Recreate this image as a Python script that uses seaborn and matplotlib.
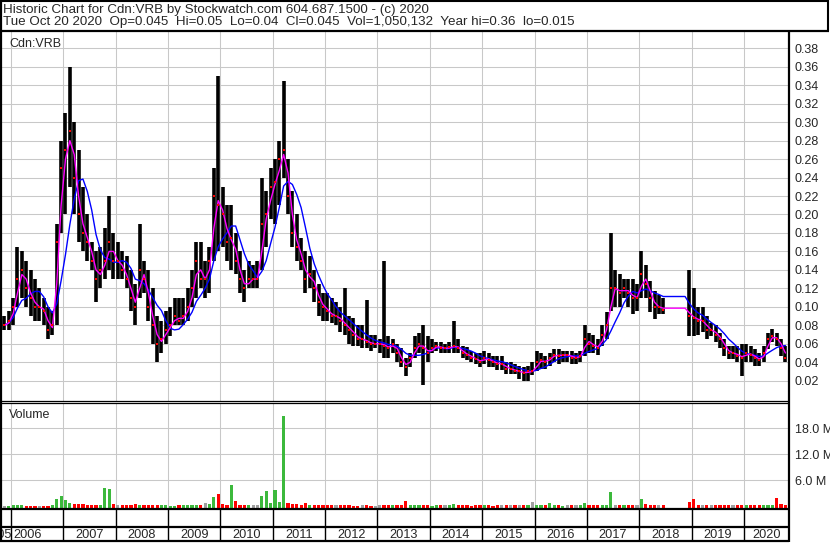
import numpy as np
import pandas as pd
import matplotlib
matplotlib.use("Agg")
import matplotlib.pyplot as plt
import seaborn as sns

nan = np.nan

# ---------------------------------------------
# Monthly bars, Nov 2005 .. Oct 2020
# (no trading Jul-Nov 2018)
# ---------------------------------------------
first_month = "2005-11"

high = [
    0.09, 0.095,
    0.11, 0.165, 0.16, 0.15, 0.14, 0.13, 0.12, 0.11, 0.10, 0.095, 0.19, 0.28,
    0.31, 0.36, 0.30, 0.27, 0.23, 0.20, 0.17, 0.16, 0.165, 0.185, 0.22, 0.18,
    0.17, 0.16, 0.155, 0.14, 0.125, 0.19, 0.15, 0.14, 0.12, 0.09, 0.085, 0.095,
    0.10, 0.11, 0.11, 0.11, 0.12, 0.14, 0.17, 0.17, 0.15, 0.165, 0.25, 0.35,
    0.23, 0.21, 0.21, 0.18, 0.16, 0.14, 0.15, 0.145, 0.15, 0.24, 0.225, 0.25,
    0.26, 0.28, 0.345, 0.26, 0.225, 0.20, 0.175, 0.16, 0.155, 0.14, 0.125, 0.115,
    0.115, 0.11, 0.105, 0.10, 0.12, 0.09, 0.088, 0.08, 0.08, 0.107, 0.07, 0.07,
    0.065, 0.15, 0.068, 0.065, 0.06, 0.055, 0.045, 0.05, 0.068, 0.072, 0.08, 0.068,
    0.065, 0.062, 0.062, 0.06, 0.062, 0.085, 0.065, 0.058, 0.056, 0.052, 0.05, 0.05,
    0.052, 0.05, 0.047, 0.047, 0.047, 0.04, 0.04, 0.038, 0.036, 0.035, 0.036, 0.04,
    0.052, 0.05, 0.047, 0.05, 0.054, 0.054, 0.052, 0.052, 0.052, 0.05, 0.052, 0.08,
    0.072, 0.069, 0.065, 0.08, 0.094, 0.18, 0.14, 0.135, 0.13, 0.13, 0.13, 0.125,
    0.16, 0.145, 0.128, 0.117, 0.113, 0.11, nan, nan, nan, nan, nan, 0.14,
    0.12, 0.10, 0.10, 0.09, 0.083, 0.08, 0.072, 0.065, 0.058, 0.058, 0.058, 0.06,
    0.06, 0.058, 0.054, 0.05, 0.058, 0.072, 0.076, 0.072, 0.065, 0.058,
]

low = [
    0.075, 0.075,
    0.08, 0.10, 0.11, 0.10, 0.09, 0.085, 0.085, 0.08, 0.065, 0.07, 0.08, 0.18,
    0.20, 0.23, 0.20, 0.17, 0.16, 0.15, 0.14, 0.105, 0.12, 0.13, 0.14, 0.13,
    0.13, 0.13, 0.12, 0.095, 0.08, 0.11, 0.115, 0.085, 0.06, 0.04, 0.05, 0.06,
    0.068, 0.08, 0.08, 0.08, 0.085, 0.10, 0.11, 0.12, 0.11, 0.115, 0.15, 0.16,
    0.165, 0.15, 0.14, 0.135, 0.115, 0.105, 0.12, 0.12, 0.12, 0.14, 0.165, 0.195,
    0.19, 0.21, 0.24, 0.20, 0.165, 0.15, 0.14, 0.115, 0.12, 0.105, 0.09, 0.085,
    0.085, 0.083, 0.08, 0.073, 0.07, 0.06, 0.058, 0.058, 0.055, 0.055, 0.052, 0.055,
    0.05, 0.045, 0.045, 0.05, 0.04, 0.035, 0.025, 0.035, 0.045, 0.05, 0.015, 0.04,
    0.05, 0.052, 0.05, 0.05, 0.05, 0.05, 0.05, 0.045, 0.042, 0.04, 0.038, 0.035,
    0.038, 0.035, 0.035, 0.032, 0.032, 0.027, 0.027, 0.027, 0.022, 0.02, 0.02, 0.026,
    0.03, 0.033, 0.033, 0.036, 0.04, 0.038, 0.04, 0.04, 0.038, 0.038, 0.04, 0.047,
    0.05, 0.05, 0.048, 0.058, 0.065, 0.095, 0.10, 0.10, 0.11, 0.10, 0.092, 0.095,
    0.11, 0.11, 0.094, 0.087, 0.092, 0.092, nan, nan, nan, nan, nan, 0.068,
    0.068, 0.07, 0.073, 0.065, 0.068, 0.062, 0.055, 0.047, 0.043, 0.043, 0.04, 0.025,
    0.04, 0.04, 0.036, 0.036, 0.04, 0.054, 0.062, 0.058, 0.047, 0.04,
]

close = [
    0.08, 0.085,
    0.10, 0.13, 0.14, 0.12, 0.11, 0.10, 0.10, 0.095, 0.075, 0.08, 0.17, 0.25,
    0.27, 0.29, 0.24, 0.20, 0.18, 0.17, 0.15, 0.13, 0.14, 0.15, 0.17, 0.15,
    0.15, 0.14, 0.13, 0.11, 0.10, 0.14, 0.13, 0.10, 0.08, 0.06, 0.065, 0.075,
    0.08, 0.09, 0.085, 0.09, 0.10, 0.12, 0.15, 0.13, 0.13, 0.15, 0.22, 0.21,
    0.20, 0.17, 0.175, 0.15, 0.13, 0.12, 0.13, 0.13, 0.13, 0.19, 0.20, 0.23,
    0.235, 0.26, 0.27, 0.22, 0.18, 0.165, 0.15, 0.13, 0.135, 0.12, 0.105, 0.10,
    0.095, 0.09, 0.09, 0.085, 0.08, 0.075, 0.07, 0.065, 0.065, 0.062, 0.06, 0.06,
    0.06, 0.058, 0.055, 0.06, 0.05, 0.04, 0.035, 0.045, 0.055, 0.06, 0.055, 0.05,
    0.055, 0.058, 0.055, 0.055, 0.056, 0.058, 0.055, 0.05, 0.048, 0.045, 0.043, 0.04,
    0.045, 0.042, 0.04, 0.038, 0.038, 0.033, 0.033, 0.03, 0.03, 0.028, 0.03, 0.03,
    0.04, 0.042, 0.04, 0.045, 0.048, 0.047, 0.048, 0.048, 0.045, 0.045, 0.047, 0.065,
    0.06, 0.058, 0.055, 0.07, 0.08, 0.12, 0.12, 0.115, 0.12, 0.115, 0.11, 0.11,
    0.135, 0.125, 0.11, 0.10, 0.10, 0.097, nan, nan, nan, nan, nan, 0.09,
    0.088, 0.085, 0.085, 0.075, 0.075, 0.07, 0.065, 0.055, 0.05, 0.05, 0.047, 0.045,
    0.05, 0.048, 0.045, 0.042, 0.05, 0.065, 0.068, 0.065, 0.055, 0.045,
]

# volume in millions of shares
volume = [
    0.15, 0.15,
    0.2, 0.3, 0.2, 0.15, 0.15, 0.15, 0.1, 0.15, 0.15, 0.2, 1.7, 2.4,
    1.5, 0.8, 0.6, 0.6, 0.5, 0.4, 0.3, 0.3, 0.3, 4.2, 4.0, 0.5,
    0.3, 0.2, 0.2, 0.3, 0.5, 0.3, 0.2, 0.2, 0.2, 0.3, 0.2, 0.2,
    0.15, 0.15, 0.2, 0.2, 0.2, 0.3, 0.4, 0.3, 0.7, 0.5, 2.2, 2.8,
    0.5, 0.3, 4.9, 1.2, 0.3, 0.3, 0.2, 0.3, 0.4, 2.4, 3.5, 0.8,
    3.8, 1.0, 20.8, 0.8, 0.6, 0.5, 0.4, 0.7, 0.3, 0.3, 0.2, 0.2,
    0.2, 0.2, 0.2, 0.3, 0.2, 0.2, 0.15, 0.15, 0.2, 0.2, 0.15, 0.15,
    0.2, 0.3, 0.2, 0.2, 0.2, 0.2, 1.2, 0.3, 0.2, 0.2, 0.3, 0.2,
    0.15, 0.2, 0.2, 0.2, 0.2, 0.55, 0.2, 0.2, 0.2, 0.15, 0.2, 0.2,
    0.2, 0.2, 0.15, 0.2, 0.3, 0.2, 0.2, 0.2, 0.25, 0.2, 0.3, 1.0,
    0.2, 0.2, 0.2, 0.7, 0.2, 0.2, 0.15, 0.2, 0.2, 0.2, 0.2, 0.7,
    0.3, 0.2, 0.2, 0.3, 0.4, 3.2, 0.4, 0.3, 0.3, 0.4, 0.3, 0.3,
    1.8, 0.5, 0.4, 0.3, 0.3, 0.2, nan, nan, nan, nan, nan, 1.0,
    1.7, 0.4, 0.3, 0.2, 0.2, 0.2, 0.2, 0.2, 0.2, 0.3, 0.2, 0.2,
    0.2, 0.2, 0.3, 0.2, 0.2, 0.3, 0.2, 2.0, 0.5, 0.3,
]

price_ticks = [0.02, 0.04, 0.06, 0.08, 0.10, 0.12, 0.14, 0.16, 0.18, 0.20,
               0.22, 0.24, 0.26, 0.28, 0.30, 0.32, 0.34, 0.36, 0.38]
volume_ticks = [6.0, 12.0, 18.0]
years = list(range(2005, 2021))

title_line1 = "Historic Chart for Cdn:VRB by Stockwatch.com 604.687.1500 - (c) 2020"
title_line2 = ("Tue Oct 20 2020  Op=0.045  Hi=0.05  Lo=0.04  Cl=0.045  "
               "Vol=1,050,132  Year hi=0.36  lo=0.015")

# ---------------------------------------------
# Build the frame
# ---------------------------------------------
months = pd.period_range(first_month, periods=len(close), freq="M")
df = pd.DataFrame({
    "t": months.year + (months.month - 0.5) / 12.0,
    "high": high, "low": low, "close": close, "volume": volume,
})

# moving averages over traded months, carried flat through the halt
traded = df.dropna(subset=["close"])
df["ma_fast"] = traded["close"].rolling(2, min_periods=1).mean().reindex(df.index).ffill()
df["ma_slow"] = traded["close"].rolling(6, min_periods=1).mean().reindex(df.index).ffill()

chg = traded["close"].diff().reindex(df.index)
df["vcol"] = np.where(chg > 0, "#3cb93c", np.where(chg < 0, "#ff0000", "#a0a0a0"))

# ---------------------------------------------
# Figure, pixel-based layout
# ---------------------------------------------
sns.set_style("white")
plt.rcParams["font.family"] = ["Liberation Sans", "DejaVu Sans"]
plt.rcParams["font.size"] = 9

W, H = 830, 543
fig = plt.figure(figsize=(W / 100, H / 100), dpi=100)


def box(x0, y0, x1, y1):
    return [x0 / W, 1 - y1 / H, (x1 - x0) / W, (y1 - y0) / H]


x_lo, x_hi = 2005.81, 2020.86
px_year = 52.36
grid_kw = dict(color="#c8c8c8", lw=0.75, zorder=0)

ax = fig.add_axes(box(1, 31, 789, 401))
ax_v = fig.add_axes(box(1, 403, 789, 509))
ax_d = fig.add_axes(box(1, 509, 789, 541))

# --- price panel
ax.set_xlim(x_lo, x_hi)
ax.set_ylim(-0.002, 0.3987)
for y in price_ticks:
    ax.axhline(y, **grid_kw)
for yr in years[1:]:
    ax.axvline(yr, **grid_kw)

ax.vlines(df["t"], df["low"], df["high"], color="black", lw=2.6, zorder=2)
sns.lineplot(x=df["t"], y=df["ma_slow"], color="#0000ff", lw=1.0, ax=ax, zorder=3)
sns.lineplot(x=df["t"], y=df["ma_fast"], color="#ff00ff", lw=1.0, ax=ax, zorder=4)
sns.scatterplot(x=df["t"], y=df["close"], color="#ff0000", marker="s", s=3,
                linewidth=0, ax=ax, zorder=5)

ax.yaxis.tick_right()
ax.set_yticks(price_ticks)
ax.set_yticklabels([f"{v:.2f}" for v in price_ticks])
ax.tick_params(axis="y", length=0, pad=4)
ax.set_xticks([])
ax.set_xlabel("")
ax.set_ylabel("")
ax.text(8 / 788, 1 - 16 / 370, "Cdn:VRB", transform=ax.transAxes, fontsize=9,
        va="baseline", ha="left")

# --- volume panel
v_floor = -0.62
ax_v.set_xlim(x_lo, x_hi)
ax_v.set_ylim(v_floor, 23.84)
for y in volume_ticks:
    ax_v.axhline(y, **grid_kw)
for yr in years[1:]:
    ax_v.axvline(yr, **grid_kw)
vv = df.dropna(subset=["volume"])
ax_v.bar(vv["t"], vv["volume"] - v_floor, bottom=v_floor, width=3.2 / px_year,
         color=vv["vcol"], linewidth=0, zorder=2)
ax_v.yaxis.tick_right()
ax_v.set_yticks(volume_ticks)
ax_v.set_yticklabels([f"{v:.1f} M" for v in volume_ticks])
ax_v.tick_params(axis="y", length=0, pad=4)
ax_v.set_xticks([])
ax_v.text(8 / 788, 1 - 15 / 106, "Volume", transform=ax_v.transAxes, fontsize=9,
          va="baseline", ha="left")

# --- date strip
ax_d.set_xlim(x_lo, x_hi)
ax_d.set_ylim(0, 1)
ax_d.vlines(years[1:], 0, 1, color="black", lw=1.0)
ax_d.axhline(14 / 32, color="black", lw=1.6)
for yr in years:
    if yr == 2005:
        xt, ha = 2006 + 1.2 / px_year, "right"
    elif yr == 2006:
        xt, ha = 2006 + 2.0 / px_year, "left"
    else:
        xt, ha = (yr + min(yr + 1, x_hi)) / 2, "center"
    ax_d.text(xt, 3.5 / 32, str(yr), ha=ha, va="baseline", fontsize=9.2, clip_on=False)
ax_d.set_xticks([])
ax_d.set_yticks([])

for a in (ax, ax_v, ax_d):
    for s in a.spines.values():
        s.set_visible(False)

# --- header and frame lines (pixel overlay)
ov = fig.add_axes([0, 0, 1, 1], zorder=10)
ov.set_xlim(0, W)
ov.set_ylim(H, 0)
ov.axis("off")
ov.patch.set_alpha(0)
frame = [
    ((0, 829), (0.7, 0.7), 1.5),
    ((0, 829), (30.5, 30.5), 1.6),
    ((0.8, 0.8), (0, 541.5), 1.6),
    ((828.2, 828.2), (0, 31), 1.5),
    ((789, 789), (31, 541.5), 1.6),
    ((0, 789), (401, 401), 0.9),
    ((0, 789), (403.2, 403.2), 0.9),
    ((0, 789), (509, 509), 1.6),
    ((0, 789), (541, 541), 1.6),
]
for xs, ys, lw in frame:
    ov.plot(xs, ys, color="black", lw=lw, solid_capstyle="butt")
ov.text(3, 12.5, title_line1, fontsize=9.6, va="baseline", ha="left")
ov.text(3, 25.5, title_line2, fontsize=9.6, va="baseline", ha="left")

fig.savefig("out.png", dpi=100)
